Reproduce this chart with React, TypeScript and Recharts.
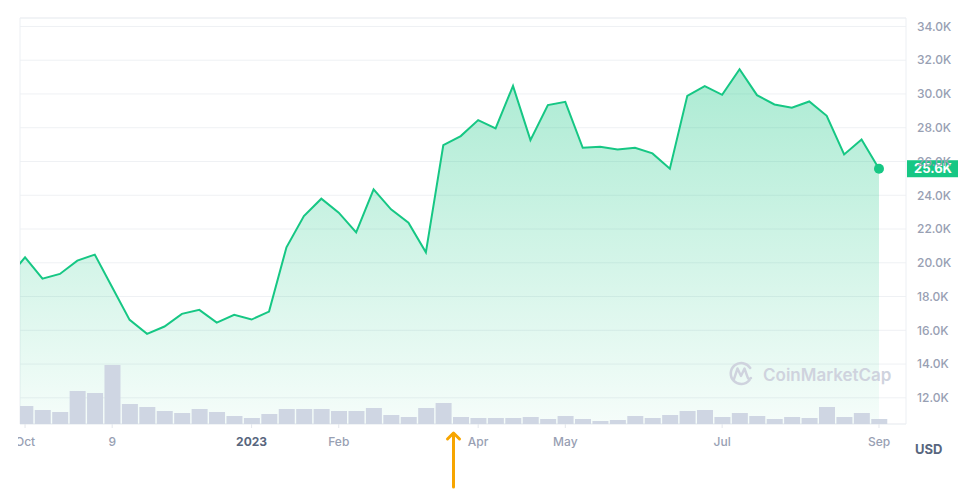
import React from 'react';
import {
  ComposedChart,
  Area,
  Bar,
  XAxis,
  YAxis,
  CartesianGrid,
  ReferenceArea,
  ReferenceDot,
  ReferenceLine,
} from 'recharts';

// Weekly BTC price (USD); the week before index 0 is partly off the left edge
const prevPrice = 19090;
const prices = [
  20324, 19063, 19340, 20128, 20483, 18550, 16618, 15790, 16224, 16973,
  17210, 16460, 16914, 16638, 17111, 20917, 22771, 23796, 22968, 21805,
  24349, 23165, 22377, 20621, 26971, 27504, 28450, 27957, 30482, 27267,
  29338, 29535, 26814, 26873, 26715, 26814, 26478, 25571, 29890, 30462,
  29949, 31468, 29929, 29377, 29180, 29555, 28707, 26419, 27306, 25571,
];
// Weekly volume (relative units)
const volumes = [
  18, 14, 12, 33, 31, 59, 20, 17, 13, 11,
  15, 12, 8, 6, 10, 15, 15, 15, 13, 13,
  16, 9, 7, 16, 21, 7, 6, 6, 6, 7,
  5, 8, 5, 3, 4, 8, 6, 9, 13, 14,
  7, 11, 8, 5, 7, 6, 17, 7, 11, 5,
];
const xTickIdx = [0, 5, 13, 18, 26, 31, 40, 49];
const xTickLabels = ['Oct', '9', '2023', 'Feb', 'Apr', 'May', 'Jul', 'Sep'];
const yTicks = [12000, 14000, 16000, 18000, 20000, 22000, 24000, 26000, 28000, 30000, 32000, 34000];
const xDomain: [number, number] = [-0.29, 50.55];
const yDomain: [number, number] = [10450, 34500];
const volDomain: [number, number] = [0, 406];

const data = [
  { i: -1, price: prevPrice, vol: null as number | null },
  ...prices.map((p, k) => ({ i: k, price: p, vol: volumes[k] })),
];
const lastIndex = prices.length - 1;
const lastPrice = prices[lastIndex];

const GREEN = '#16c784';
const FONT = 'Inter, "Noto Sans", sans-serif';

const fmtK = (v: number) => (v / 1000).toFixed(1) + 'K';

const XTick = (props: any) => {
  const { x, y, payload } = props;
  const idx = xTickIdx.indexOf(payload.value);
  const label = idx >= 0 ? xTickLabels[idx] : '';
  const bold = label === '2023';
  return (
    <text
      x={x}
      y={y}
      dy="0.71em"
      textAnchor="middle"
      fontSize={12}
      fontFamily={FONT}
      fontWeight={bold ? 700 : 500}
      fill={bold ? '#58667e' : '#98a0b3'}
    >
      {label}
    </text>
  );
};

const PriceTag = (props: any) => {
  const vb = props.viewBox || {};
  const x = (vb.x || 0) + (vb.width || 0) + 1;
  const y = (vb.y || 0) - 8.5;
  return (
    <g>
      <rect x={x} y={y} width={52} height={17} fill={GREEN} />
      <text
        x={x + 26}
        y={y + 8.5}
        dy="0.36em"
        textAnchor="middle"
        fontSize={13}
        fontWeight={700}
        fontFamily={FONT}
        fill="#ffffff"
      >
        {fmtK(lastPrice)}
      </text>
    </g>
  );
};

export default function App() {
  return (
    <div style={{ position: 'absolute', left: 18, top: 0, width: 940, height: 491, overflow: 'hidden', background: '#fff' }}>
      <div style={{ position: 'relative', marginLeft: -18, width: 958, height: 491 }}>
        <ComposedChart
          width={958}
          height={491}
          data={data}
          margin={{ top: 18, right: 0, bottom: 37, left: 20 }}
        >
          <defs>
            <linearGradient id="priceFill" x1="0" y1="0" x2="0" y2="1">
              <stop offset="0%" stopColor={GREEN} stopOpacity={0.36} />
              <stop offset="100%" stopColor={GREEN} stopOpacity={0.04} />
            </linearGradient>
          </defs>
          <CartesianGrid yAxisId="price" vertical={false} stroke="#eff1f4" />
          <XAxis
            dataKey="i"
            type="number"
            domain={xDomain}
            allowDataOverflow
            ticks={xTickIdx}
            interval={0}
            tick={<XTick />}
            axisLine={false}
            tickLine={{ stroke: '#e3e6ec' }}
            tickSize={4}
            tickMargin={9}
            height={30}
          />
          <YAxis
            yAxisId="price"
            orientation="right"
            domain={yDomain}
            allowDataOverflow
            ticks={yTicks}
            interval={0}
            tickFormatter={fmtK}
            axisLine={false}
            tickLine={false}
            tickMargin={5}
            width={52}
            tick={{ fill: '#98a0b3', fontSize: 12, fontWeight: 500, fontFamily: FONT }}
          />
          <YAxis yAxisId="vol" hide domain={volDomain} allowDataOverflow />
          <ReferenceArea
            yAxisId="price"
            x1={xDomain[0]}
            x2={xDomain[1]}
            y1={yDomain[0]}
            y2={yDomain[1]}
            fill="none"
            stroke="#eceff3"
            strokeWidth={1}
          />
          <Area
            yAxisId="price"
            type="linear"
            dataKey="price"
            stroke={GREEN}
            strokeWidth={2}
            fill="url(#priceFill)"
            fillOpacity={1}
            dot={false}
            activeDot={false}
            isAnimationActive={false}
          />
          <Bar
            yAxisId="vol"
            dataKey="vol"
            fill="#cfd6e3"
            barSize={16}
            isAnimationActive={false}
          />
          <ReferenceDot yAxisId="price" x={lastIndex} y={lastPrice} r={5} fill={GREEN} stroke="none" />
          <ReferenceLine yAxisId="price" y={lastPrice} stroke="none" ifOverflow="visible" label={<PriceTag />} />
        </ComposedChart>
        <svg
          width={958}
          height={491}
          style={{ position: 'absolute', left: 0, top: 0, pointerEvents: 'none' }}
        >
          <g>
            <path
              d="M 750.2 368 A 10.5 10.5 0 1 0 749.5 380"
              fill="none"
              stroke="#cfd3de"
              strokeWidth={2.6}
              strokeLinecap="round"
            />
            <path
              d="M 734 379 L 737.5 368.5 L 741 376 L 744.5 368.5 L 747.5 377 Q 748.5 380 751 378"
              fill="none"
              stroke="#cfd3de"
              strokeWidth={2.4}
              strokeLinejoin="round"
              strokeLinecap="round"
            />
            <text x={763} y={380.5} fontSize={17} fontWeight={600} fontFamily={FONT} fill="#cfd3de">
              CoinMarketCap
            </text>
          </g>
          <text x={915} y={454} fontSize={13} fontWeight={700} fontFamily={FONT} fill="#58667e">
            USD
          </text>
          <line x1={453.5} y1={434} x2={453.5} y2={487} stroke="#f7a500" strokeWidth={3} strokeLinecap="round" />
          <path
            d="M 447.5 439 L 453.5 433 L 459.5 439"
            fill="none"
            stroke="#f7a500"
            strokeWidth={3}
            strokeLinecap="round"
            strokeLinejoin="round"
          />
        </svg>
      </div>
    </div>
  );
}
